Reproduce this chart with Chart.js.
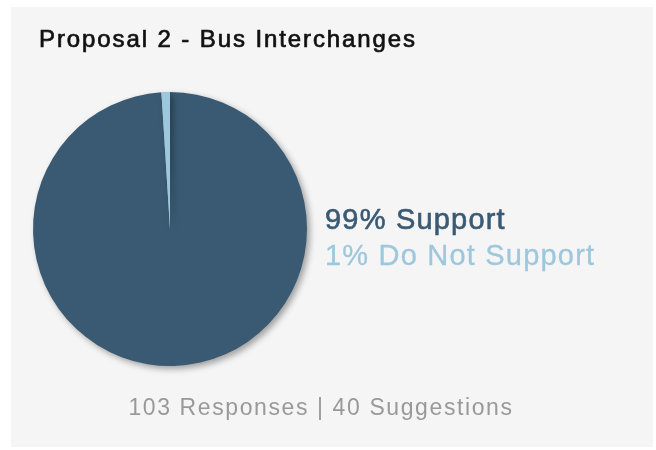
<!DOCTYPE html>
<html>
<head>
<meta charset="utf-8">
<script src="https://cdn.jsdelivr.net/npm/chart.js@4.4.1/dist/chart.umd.min.js"></script>
<style>
    html, body { margin: 0; padding: 0; background: #ffffff; }
    #panel {
        position: absolute;
        left: 11px; top: 7px; right: 3px; bottom: 3px;
        background: #f5f5f5;
    }
    #proposal { position: absolute; left: 0; top: 0; }
</style>
</head>
<body>
<div id="panel"></div>
<canvas id="proposal" width="656" height="450"></canvas>
<script>
const chartTitle = 'Proposal 2 - Bus Interchanges';
const labels = ['Support', 'Do Not Support'];
const values = [99, 1];
const colors = ['#3a5a73', '#9dc7dc'];
const responses = 103;
const suggestions = 40;

// Soft drop shadow under the pie
const pieShadow = {
    id: 'pieShadow',
    beforeDatasetsDraw(chart) {
        const ctx = chart.ctx;
        ctx.save();
        ctx.shadowColor = 'rgba(0, 0, 0, 0.35)';
        ctx.shadowBlur = 6;
        ctx.shadowOffsetX = 3;
        ctx.shadowOffsetY = 3;
    },
    afterDatasetsDraw(chart) {
        chart.ctx.restore();
    }
};

// fill plus a thin stroke gives a medium weight look
function mediumText(ctx, text, x, y, color, stroke) {
    ctx.fillStyle = color;
    ctx.strokeStyle = color;
    ctx.lineWidth = stroke;
    ctx.fillText(text, x, y);
    ctx.strokeText(text, x, y);
}

// Title, side legend and footer line
const panelText = {
    id: 'panelText',
    afterDraw(chart) {
        const ctx = chart.ctx;
        const area = chart.chartArea;
        ctx.save();
        ctx.textBaseline = 'alphabetic';
        ctx.lineJoin = 'round';

        ctx.font = '24px "Liberation Sans", Arial, sans-serif';
        ctx.letterSpacing = '1.9px';
        ctx.textAlign = 'left';
        mediumText(ctx, chartTitle, 39, 47, '#111111', 0.7);

        const legendX = area.right + 18;
        labels.forEach((label, i) => {
            ctx.font = '29px "Liberation Sans", Arial, sans-serif';
            ctx.letterSpacing = '1.2px';
            mediumText(ctx, `${values[i]}% ${label}`, legendX, 229 + i * 36, colors[i], i === 0 ? 0.6 : 0.3);
        });

        ctx.fillStyle = '#999999';
        ctx.font = '23px "Liberation Sans", Arial, sans-serif';
        ctx.letterSpacing = '1.6px';
        ctx.textAlign = 'center';
        ctx.fillText(`${responses} Responses | ${suggestions} Suggestions`, 321, 415);
        ctx.restore();
    }
};

new Chart(document.getElementById('proposal'), {
    type: 'pie',
    data: {
        labels: labels,
        datasets: [{
            data: values,
            backgroundColor: colors,
            borderWidth: 0,
            hoverOffset: 0
        }]
    },
    options: {
        responsive: false,
        animation: false,
        layout: {
            padding: { left: 33, right: 349, top: 92, bottom: 84 }
        },
        plugins: {
            legend: { display: false },
            tooltip: { enabled: false }
        }
    },
    plugins: [pieShadow, panelText]
});
</script>
</body>
</html>
